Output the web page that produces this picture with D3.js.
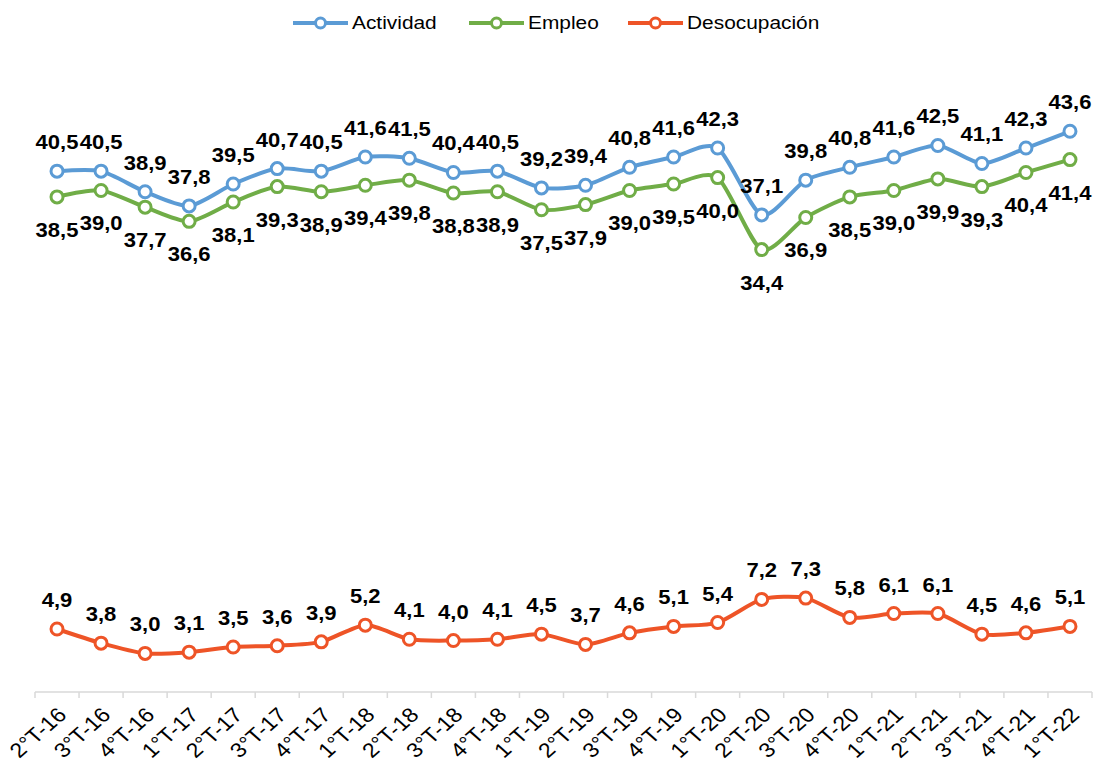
<!DOCTYPE html>
<html>
<head>
<meta charset="utf-8">
<script src="https://cdn.jsdelivr.net/npm/d3@7"></script>
<style>
  body { margin: 0; background: #fff; }
  text { font-family: "Liberation Sans", Arial, sans-serif; }
</style>
</head>
<body>
<div id="chart"></div>
<script>
var WIDTH = 1093, HEIGHT = 767;

// quarters on the x axis
var quarters = ['2°T-16', '3°T-16', '4°T-16', '1°T-17', '2°T-17', '3°T-17', '4°T-17',
  '1°T-18', '2°T-18', '3°T-18', '4°T-18', '1°T-19', '2°T-19', '3°T-19', '4°T-19',
  '1°T-20', '2°T-20', '3°T-20', '4°T-20', '1°T-21', '2°T-21', '3°T-21', '4°T-21', '1°T-22'];

// rates (%)
var actividad = [40.5, 40.5, 38.9, 37.8, 39.5, 40.7, 40.5, 41.6, 41.5, 40.4, 40.5, 39.2,
  39.4, 40.8, 41.6, 42.3, 37.1, 39.8, 40.8, 41.6, 42.5, 41.1, 42.3, 43.6];
var empleo = [38.5, 39.0, 37.7, 36.6, 38.1, 39.3, 38.9, 39.4, 39.8, 38.8, 38.9, 37.5,
  37.9, 39.0, 39.5, 40.0, 34.4, 36.9, 38.5, 39.0, 39.9, 39.3, 40.4, 41.4];
var desocupacion = [4.9, 3.8, 3.0, 3.1, 3.5, 3.6, 3.9, 5.2, 4.1, 4.0, 4.1, 4.5,
  3.7, 4.6, 5.1, 5.4, 7.2, 7.3, 5.8, 6.1, 6.1, 4.5, 4.6, 5.1];

var series = [
  {name: 'Actividad', values: actividad, color: '#5b9bd5', labelPos: 'above'},
  {name: 'Empleo', values: empleo, color: '#70ad47', labelPos: 'below'},
  {name: 'Desocupación', values: desocupacion, color: '#ee5427', labelPos: 'above'}
];

// the source image is a bit wider than tall, so text gets stretched
var SX = 1.13;

var svg = d3.select('#chart')
    .append('svg')
    .attr('width', WIDTH)
    .attr('height', HEIGHT);

var x = d3.scaleBand()
    .domain(quarters)
    .range([35, 1092]);

var y = d3.scaleLinear()
    .domain([0, 50])
    .range([692, 49]);

//x axis
var xAxis = svg.append('g')
    .attr('transform', 'translate(0,692)');

xAxis.append('line')
    .attr('x1', x.range()[0])
    .attr('x2', x.range()[1])
    .attr('stroke', '#d9d9d9')
    .attr('stroke-width', 1.5);

// tick marks between categories
var bounds = quarters.map(function(q) { return x(q); }).concat([x.range()[1]]);
xAxis.selectAll('.tick-mark')
    .data(bounds)
    .enter()
    .append('line')
    .attr('x1', function(d) { return d; })
    .attr('x2', function(d) { return d; })
    .attr('y1', 0)
    .attr('y2', 6)
    .attr('stroke', '#d9d9d9')
    .attr('stroke-width', 1.5);

xAxis.selectAll('.tick-label')
    .data(quarters)
    .enter()
    .append('text')
    .attr('transform', function(d) {
        return 'translate(' + (x(d) + x.bandwidth() / 2 + 5) + ',' + 19 + ') scale(' + SX + ',1) rotate(-45)';
    })
    .attr('text-anchor', 'end')
    .attr('dy', '0.35em')
    .attr('font-size', 20.5)
    .attr('fill', '#000')
    .text(function(d) { return d; });

var line = d3.line()
    .x(function(d, i) { return x(quarters[i]) + x.bandwidth() / 2; })
    .y(function(d) { return y(d); })
    .curve(d3.curveCardinal.tension(0.25));

var fmt = function(v) { return d3.format('.1f')(v).replace('.', ','); };

series.forEach(function(s) {
    var g = svg.append('g').attr('class', 'series');

    g.append('path')
        .datum(s.values)
        .attr('d', line)
        .attr('fill', 'none')
        .attr('stroke', s.color)
        .attr('stroke-width', 4)
        .attr('stroke-linejoin', 'round');

    g.selectAll('circle')
        .data(s.values)
        .enter()
        .append('circle')
        .attr('cx', function(d, i) { return x(quarters[i]) + x.bandwidth() / 2; })
        .attr('cy', function(d) { return y(d); })
        .attr('r', 6)
        .attr('fill', '#fff')
        .attr('stroke', s.color)
        .attr('stroke-width', 3);

    g.selectAll('.label')
        .data(s.values)
        .enter()
        .append('text')
        .attr('transform', function(d, i) {
            var lx = x(quarters[i]) + x.bandwidth() / 2;
            var ly = s.labelPos == 'above' ? y(d) - 22 : y(d) + 40;
            return 'translate(' + lx + ',' + ly + ') scale(' + SX + ',1)';
        })
        .attr('text-anchor', 'middle')
        .attr('font-size', 19.5)
        .attr('font-weight', 'bold')
        .attr('fill', '#000')
        .text(fmt);
});

//legend
var legendX = [293, 469, 628];
var legend = svg.append('g').attr('class', 'legend');
series.forEach(function(s, i) {
    var lg = legend.append('g').attr('transform', 'translate(' + legendX[i] + ',23)');
    lg.append('line')
        .attr('x1', 0).attr('x2', 55)
        .attr('stroke', s.color)
        .attr('stroke-width', 4);
    lg.append('circle')
        .attr('cx', 27.5).attr('r', 5)
        .attr('fill', '#fff')
        .attr('stroke', s.color)
        .attr('stroke-width', 3);
    lg.append('text')
        .attr('transform', 'translate(59,0) scale(' + SX + ',1)')
        .attr('dy', '0.35em')
        .attr('font-size', 18.5)
        .attr('fill', '#000')
        .text(s.name);
});
</script>
</body>
</html>
